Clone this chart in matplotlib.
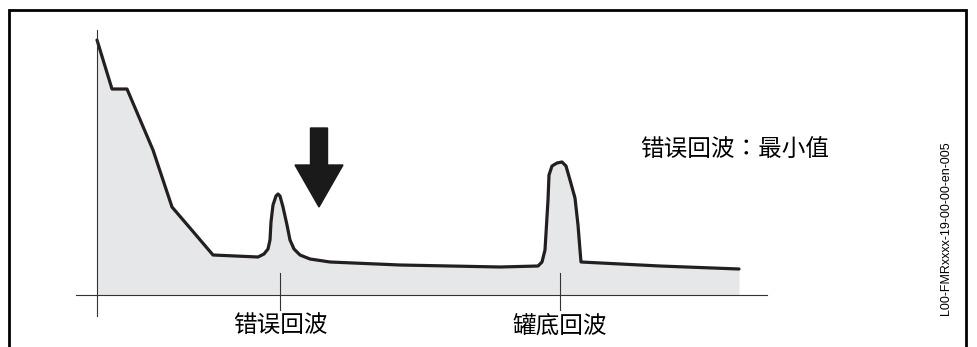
import matplotlib
matplotlib.use("Agg")
import matplotlib.pyplot as plt
from matplotlib.patches import Rectangle
import numpy as np

plt.rcParams['font.family'] = ['Noto Sans CJK SC', 'DejaVu Sans']

# echo envelope: distance vs amplitude (units ~ px)
dist = [0, 15, 30, 56, 75, 93, 116, 161, 167, 171, 173, 174, 176, 179, 181,
        183, 186, 190, 193, 197, 203, 213, 233, 303, 403, 441, 445, 448, 451,
        452, 455, 460, 465, 469, 473, 478, 481, 483, 484, 563, 642]
amp = [255, 206, 206, 145, 88, 67, 40, 38, 41, 46, 55, 73, 90, 99, 101,
       99, 88, 70, 55, 46, 40, 36, 33, 30, 28, 29, 33, 45, 95,
       120, 129, 132, 133, 129, 115, 97, 70, 45, 33, 29, 26]

echo_pos = [183, 463]
echo_labels = ['错误回波', '罐底回波']
note = '错误回波：最小值'
code = 'L00-FMRxxxx-19-00-00-en-005'

fig = plt.figure(figsize=(9.77, 3.47), dpi=100)
ax = fig.add_axes([0, 0, 1, 1])
ax.set_xlim(-97, 880)
ax.set_ylim(-52, 295)
ax.axis('off')

# frame
ax.add_patch(Rectangle((-88, -80), 957, 365, fill=False, lw=2, ec='black'))

ax.fill_between(dist, amp, 0, color='#e6e7e8', lw=0)
ax.plot(dist, amp, color='#231f20', lw=2.3, solid_joinstyle='round',
        solid_capstyle='round')

# axes lines
ax.plot([0, 0], [-21, 265], color='#333333', lw=0.8)
ax.plot([-21, 670], [0, 0], color='#333333', lw=0.8)

for x, lab in zip(echo_pos, echo_labels):
    ax.plot([x, x], [-15, 22], color='#333333', lw=0.8)
    ax.text(x, -31, lab, ha='center', va='center', fontsize=17)

ax.arrow(222, 167, 0, -79, width=17, head_width=48, head_length=42,
         length_includes_head=True, fc='#1a1a1a', ec='#1a1a1a')

ax.text(543, 145, note, ha='left', va='center', fontsize=17,
        family=['Noto Sans CJK TC', 'DejaVu Sans'])
ax.text(849, 67, code, ha='center', va='center', rotation=90, fontsize=9,
        family=['Liberation Sans', 'DejaVu Sans'])

fig.savefig('out.png', dpi=100)
